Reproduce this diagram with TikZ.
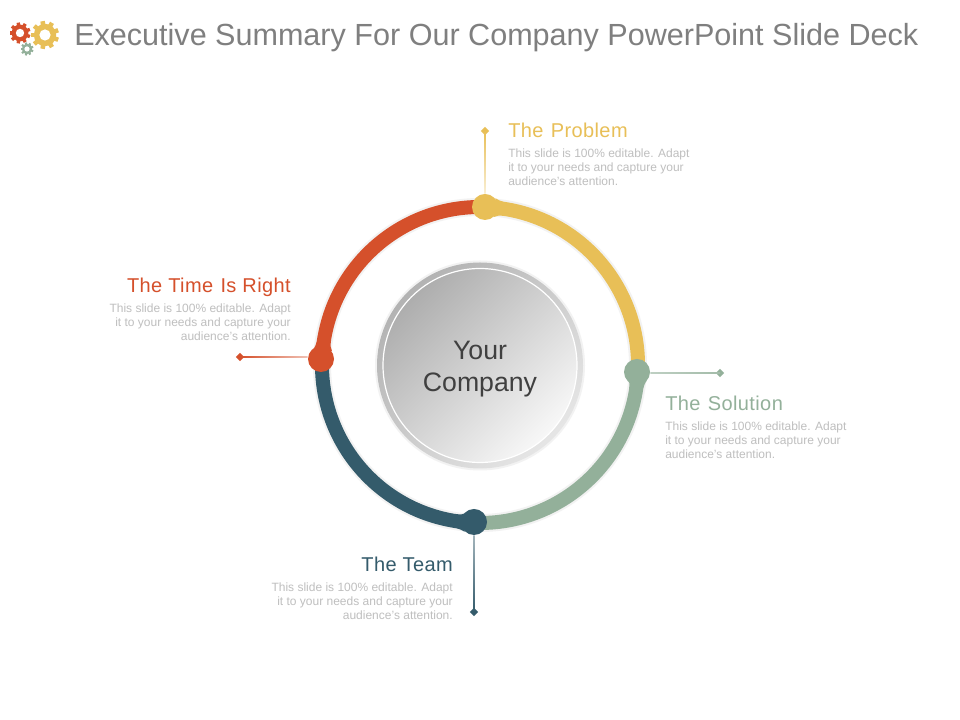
\documentclass[tikz,border=0pt]{standalone}
\usepackage{fontspec}
\setmainfont{Liberation Sans}
\newfontfamily\headfont[LetterSpace=2]{Liberation Sans}
\usetikzlibrary{shapes.geometric,calc}
\definecolor{cRed}{HTML}{D5502B}
\definecolor{cYel}{HTML}{E8BF57}
\definecolor{cGrn}{HTML}{93B09A}
\definecolor{cBlu}{HTML}{345B6B}
\definecolor{cTitle}{HTML}{7F7F7F}
\definecolor{cBody}{HTML}{BFBFBF}
\newcommand{\ringarc}[2]{%
  \begin{scope}[shift={(480,355)},rotate=#1]
    \fill[black!5] (0:167) arc[start angle=0,end angle=-90,radius=167] -- (-90:149) arc[start angle=-90,end angle=0,radius=149] -- cycle;
    \fill[#2] (-3.3:167.4) .. controls (-4.5:165.8) and (-5:165) .. (-7.5:165) arc[start angle=-7.5,end angle=-90,radius=165] -- (-90:151) arc[start angle=-90,end angle=-7.5,radius=151] .. controls (-5:151) and (-4.5:150.2) .. (-3.3:148.6) -- cycle;
  \end{scope}}
\newcommand{\gearicon}[4]{%
  \begin{scope}[shift={(#1,#2)}]
    \foreach \a in {0,40,...,320}
      \fill[#4,rotate=\a+10] (-0.16*#3,0) rectangle (0.16*#3,#3);
    \fill[#4] (0,0) circle[radius=0.8*#3];
    \fill[white] (0,0) circle[radius=0.4*#3];
  \end{scope}}
\tikzset{
  x=0.75pt,y=0.75pt,
  blob/.style={circle,inner sep=0pt,minimum size=19.5pt,fill=#1},
  tip/.style={diamond,inner sep=0pt,minimum size=6.2pt,fill=#1},
  head/.style={inner sep=0pt,font=\headfont\fontsize{15}{18}\selectfont,text=#1},
  body/.style={inner sep=0pt,text=cBody,font=\fontsize{9}{10.5}\selectfont},
}
\begin{document}
\begin{tikzpicture}
\useasboundingbox (0,0) rectangle (960,720);
\fill[white] (0,0) rectangle (960,720);
% icon
\gearicon{20}{687}{10.5}{cRed}
\gearicon{45}{685}{14}{cYel}
\gearicon{27}{671}{6.5}{cGrn}
\node[anchor=base west,inner sep=0pt,text=cTitle,font=\fontsize{22.92}{28}\selectfont] (title) at (74,674) {Executive Summary For Our Company PowerPoint Slide Deck};
% ring
\ringarc{88}{cYel}
\ringarc{-2}{cGrn}
\ringarc{-92}{cBlu}
\ringarc{178}{cRed}
\node[blob=cYel] (bTop) at (485,513) {};
\node[blob=cGrn] (bRight) at (637,348) {};
\node[blob=cBlu] (bBottom) at (474,198) {};
\node[blob=cRed] (bLeft) at (321,361) {};
% connectors
\node[tip=cYel] (tTop) at (485,589) {};
\node[tip=cGrn] (tRight) at (720,347) {};
\node[tip=cBlu] (tBottom) at (474,108) {};
\node[tip=cRed] (tLeft) at (240,363) {};
\coordinate (jRight) at (bRight.east |- tRight);
\coordinate (jLeft) at (bLeft.west |- tLeft);
\shade[bottom color=cYel!25!white,top color=cYel] ($(bTop.north)+(-0.7,0)$) rectangle ($(tTop)+(0.7,0)$);
\shade[left color=cGrn!60!white,right color=cGrn!85!white] ($(jRight)+(0,-0.7)$) rectangle ($(tRight)+(0,0.7)$);
\shade[top color=cBlu!45!white,bottom color=cBlu] ($(bBottom.south)+(-0.7,0)$) rectangle ($(tBottom)+(0.7,0)$);
\shade[left color=cRed,right color=cRed!35!white] ($(tLeft)+(0,-0.7)$) rectangle ($(jLeft)+(0,0.7)$);
% centre
\fill[black!5] (480,354.5) circle[radius=105];
\shade[left color=black!30,right color=black!10,shading angle=45] (480,354.5) circle[radius=103];
\shade[left color=black!32,right color=black!3,shading angle=45] (480,354.5) circle[radius=97];
\draw[white,line width=0.9pt] (480,354.5) circle[radius=97];
\node[align=center,inner sep=0pt,text=black!75,font=\fontsize{20}{24}\selectfont] (ctr) at (480,351) {Your\\Company};
% labels
\node[head=cYel,anchor=base west] (hP) at (508,582) {The \hspace{1pt}Problem};
\node[body,anchor=north west,align=left] (dP) at (508,571.2) {This slide is 100\% editable. Adapt\\it to your needs and capture your\\audience's attention.};
\node[head=cGrn,anchor=base west] (hS) at (665,309) {The \hspace{1pt}Solution};
\node[body,anchor=north west,align=left] (dS) at (665,298.2) {This slide is 100\% editable. Adapt\\it to your needs and capture your\\audience's attention.};
\node[head=cRed,anchor=base east] (hR) at (291,427) {The Time \hspace{1pt}Is Right};
\node[body,anchor=north east,align=right] (dR) at (291,416.2) {This slide is 100\% editable. Adapt\\it to your needs and capture your\\audience's attention.};
\node[head=cBlu,anchor=base east] (hT) at (453,148) {The Team};
\node[body,anchor=north east,align=right] (dT) at (453,137.2) {This slide is 100\% editable. Adapt\\it to your needs and capture your\\audience's attention.};
\end{tikzpicture}
\end{document}
